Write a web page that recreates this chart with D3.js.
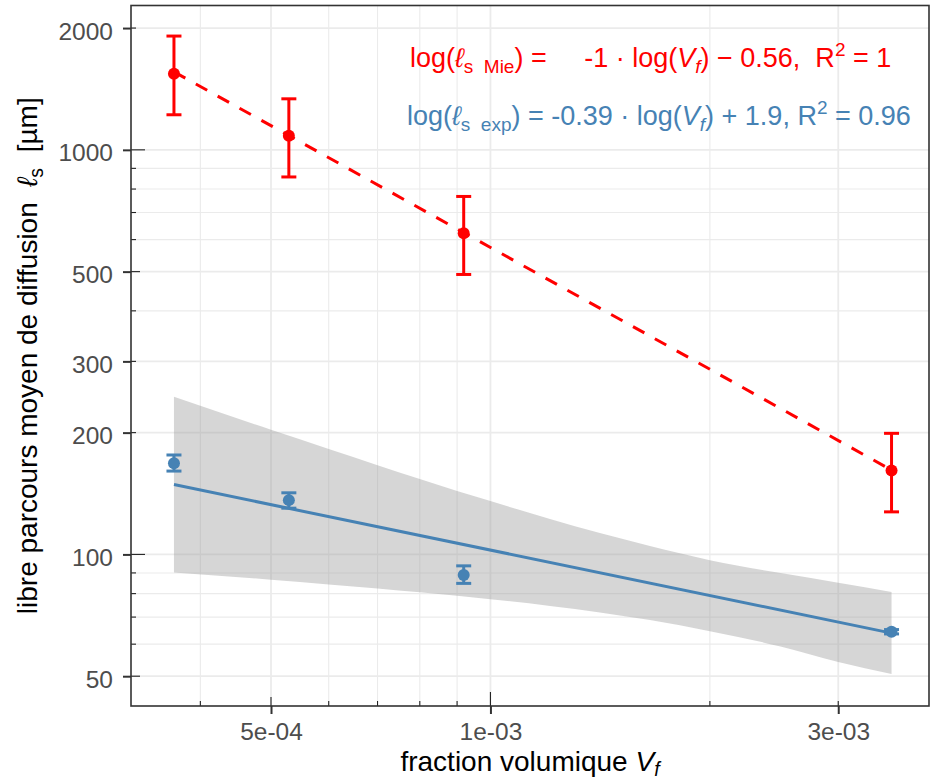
<!DOCTYPE html>
<html>
<head>
<meta charset="utf-8">
<script src="https://cdn.jsdelivr.net/npm/d3@7"></script>
<style>
  html, body { margin: 0; padding: 0; background: #fff; }
  svg { display: block; font-family: "Liberation Sans", Arial, Helvetica, sans-serif; }
</style>
</head>
<body>
<svg id="chart" width="930" height="784"></svg>
<script>
// ---------------- data ----------------
const vf      = [3.68e-4, 5.29e-4, 9.19e-4, 3.55e-3];
// Mie (computed) scattering mean free path, µm
const mieL    = [1542, 1083, 622, 161.3];
const mieLo   = [1221, 857, 492, 127.4];
const mieHi   = [1911, 1337, 767, 199.2];
// experimental scattering mean free path, µm
const expL    = [167.9, 136.2, 89.0, 64.4];
const expLo   = [160.7, 130.1, 84.8, 63.6];
const expHi   = [176.1, 142.0, 93.7, 65.2];
// fitted lines at the first and last vf
const fitVf   = [3.68e-4, 3.55e-3];
const mieFit  = [1559, 161.6];
const expFit  = [148.8, 63.9];
// confidence band of the experimental fit
const bandVf  = [3.68e-4, 5e-4, 6e-4, 7e-4, 8e-4, 9e-4, 1e-3, 1.207e-3, 1.413e-3, 1.655e-3, 2e-3, 2.5e-3, 3e-3, 3.55e-3];
const bandHi  = [245.4, 203.2, 182.2, 166.2, 153.6, 143.5, 135.5, 122.3, 112.9, 104.9, 96.8, 89.9, 85.1, 80.7];
const bandLo  = [90.2, 86.6, 84.3, 82.4, 80.6, 79.0, 77.5, 74.6, 71.9, 68.8, 64.6, 59.2, 54.2, 50.6];
// axes
const xTicks      = [5e-4, 1e-3, 3e-3];
const xTickLabels = ["5e-04", "1e-03", "3e-03"];
const xMinor      = [4e-4, 6e-4, 7e-4, 8e-4, 9e-4, 2e-3];
const yTicks      = [50, 100, 200, 300, 500, 1000, 2000];
const yTickLabels = ["50", "100", "200", "300", "500", "1000", "2000"];
const yMinor      = [60, 70, 80, 90, 400, 600, 700, 800, 900];
const xDomain     = [3.213e-4, 3.996e-3];
const yDomain     = [42.2, 2274];

// ---------------- layout ----------------
const L = 131, R = 929, T = 5.5, B = 706;
const RED = "#FF0000", BLUE = "#4682B4";
const svg = d3.select("#chart");

const x = d3.scaleLog().domain(xDomain).range([L, R]);
const y = d3.scaleLog().domain(yDomain).range([B, T]);

// grid
const grid = svg.append("g");
grid.selectAll(".ymin").data(yMinor).join("line")
  .attr("x1", L).attr("x2", R).attr("y1", d => y(d)).attr("y2", d => y(d))
  .attr("stroke", "#EBEBEB").attr("stroke-width", 1.1);
grid.selectAll(".xmin").data(xMinor).join("line")
  .attr("y1", T).attr("y2", B).attr("x1", d => x(d)).attr("x2", d => x(d))
  .attr("stroke", "#EBEBEB").attr("stroke-width", 1.1);
grid.selectAll(".ymaj").data(yTicks).join("line")
  .attr("x1", L).attr("x2", R).attr("y1", d => y(d)).attr("y2", d => y(d))
  .attr("stroke", "#EBEBEB").attr("stroke-width", 1.8);
grid.selectAll(".xmaj").data(xTicks).join("line")
  .attr("y1", T).attr("y2", B).attr("x1", d => x(d)).attr("x2", d => x(d))
  .attr("stroke", "#EBEBEB").attr("stroke-width", 1.8);

// confidence band
const band = bandVf.map((v, i) => ({v, lo: bandLo[i], hi: bandHi[i]}));
svg.append("path").datum(band)
  .attr("d", d3.area().curve(d3.curveMonotoneX).x(d => x(d.v)).y0(d => y(d.lo)).y1(d => y(d.hi)))
  .attr("fill", "#999999").attr("fill-opacity", 0.4);

// fit lines
const line = d3.line().x(d => x(d[0])).y(d => y(d[1]));
svg.append("path").datum(fitVf.map((v, i) => [v, expFit[i]]))
  .attr("d", line).attr("fill", "none").attr("stroke", BLUE).attr("stroke-width", 3);
svg.append("path").datum(fitVf.map((v, i) => [v, mieFit[i]]))
  .attr("d", line).attr("fill", "none").attr("stroke", RED).attr("stroke-width", 3)
  .attr("stroke-dasharray", "13,12");

// error bars + points
function series(vals, lo, hi, color) {
  const data = vf.map((v, i) => ({v, m: vals[i], lo: lo[i], hi: hi[i]}));
  const g = svg.append("g").attr("stroke", color).attr("stroke-width", 3);
  g.selectAll(".stem").data(data).join("line")
    .attr("x1", d => x(d.v)).attr("x2", d => x(d.v))
    .attr("y1", d => y(d.lo)).attr("y2", d => y(d.hi));
  g.selectAll(".capt").data(data).join("line")
    .attr("x1", d => x(d.v) - 7.5).attr("x2", d => x(d.v) + 7.5)
    .attr("y1", d => y(d.hi)).attr("y2", d => y(d.hi));
  g.selectAll(".capb").data(data).join("line")
    .attr("x1", d => x(d.v) - 7.5).attr("x2", d => x(d.v) + 7.5)
    .attr("y1", d => y(d.lo)).attr("y2", d => y(d.lo));
  svg.append("g").selectAll("circle").data(data).join("circle")
    .attr("cx", d => x(d.v)).attr("cy", d => y(d.m)).attr("r", 6)
    .attr("fill", color);
}
series(expL, expLo, expHi, BLUE);
series(mieL, mieLo, mieHi, RED);

// log ticks inside the panel
const logLen = d => {
  const m = Math.round(d / Math.pow(10, Math.floor(Math.log10(d) + 1e-9)));
  return m === 1 ? 14 : (m === 5 ? 9 : 5);
};
svg.append("g").selectAll("line").data(y.ticks()).join("line")
  .attr("x1", L).attr("x2", d => L + logLen(d)).attr("y1", d => y(d)).attr("y2", d => y(d))
  .attr("stroke", "#222").attr("stroke-width", 1.1);
svg.append("g").selectAll("line").data(x.ticks()).join("line")
  .attr("y1", B).attr("y2", d => B - logLen(d)).attr("x1", d => x(d)).attr("x2", d => x(d))
  .attr("stroke", "#222").attr("stroke-width", 1.1);

// axes
const yAxis = svg.append("g").attr("transform", `translate(${L},0)`)
  .call(d3.axisLeft(y).tickValues(yTicks).tickFormat((d, i) => yTickLabels[i]).tickSize(8).tickPadding(10));
const xAxis = svg.append("g").attr("transform", `translate(0,${B})`)
  .call(d3.axisBottom(x).tickValues(xTicks).tickFormat((d, i) => xTickLabels[i]).tickSize(8).tickPadding(4));
[yAxis, xAxis].forEach(a => {
  a.select(".domain").remove();
  a.selectAll(".tick line").attr("stroke", "#333").attr("stroke-width", 2);
  a.selectAll(".tick text").attr("fill", "#4D4D4D").style("font-size", "24.5px")
    .style("font-family", '"Liberation Sans", Arial, sans-serif');
});
yAxis.selectAll(".tick text").attr("dy", "0.45em");
xAxis.selectAll(".tick text").attr("dy", "0.9em");

// panel border
svg.append("rect").attr("x", L).attr("y", T).attr("width", R - L).attr("height", B - T)
  .attr("fill", "none").attr("stroke", "#333").attr("stroke-width", 1.6);

// axis titles
const xt = svg.append("text").attr("x", (L + R) / 2).attr("y", 771)
  .attr("text-anchor", "middle").style("font-size", "28px").attr("fill", "#000")
  .attr("xml:space", "preserve");
xt.append("tspan").text("fraction volumique ");
xt.append("tspan").style("font-style", "italic").text("V");
xt.append("tspan").style("font-style", "italic").style("font-size", "19.5px").attr("dy", 5).text("f");

const yt = svg.append("text").attr("transform", `translate(37,${(T + B) / 2}) rotate(-90)`)
  .attr("text-anchor", "middle").style("font-size", "28px").attr("fill", "#000")
  .attr("xml:space", "preserve");
yt.append("tspan").text("libre parcours moyen de diffusion  ");
yt.append("tspan").style("font-style", "italic").text("ℓ");
yt.append("tspan").style("font-size", "19.5px").attr("dy", 6).text("s");
yt.append("tspan").attr("dy", -6).text("  [µm]");

// equation annotations
function eq(yPos, xPos, color, sub, rest) {
  const t = svg.append("text").attr("x", xPos).attr("y", yPos).attr("fill", color)
    .style("font-size", "27px").attr("xml:space", "preserve");
  t.append("tspan").text("log(");
  t.append("tspan").style("font-style", "italic").text("ℓ");
  t.append("tspan").style("font-size", "19px").attr("dy", 6).text(sub);
  t.append("tspan").attr("dy", -6).text(rest[0]);
  t.append("tspan").style("font-style", "italic").text("V");
  t.append("tspan").style("font-style", "italic").style("font-size", "19px").attr("dy", 6).text("f");
  t.append("tspan").attr("dy", -6).text(rest[1]);
  t.append("tspan").style("font-size", "19px").attr("dy", -11).text("2");
  t.append("tspan").attr("dy", 11).text(rest[2]);
}
eq(67, 410, RED, "s  Mie", [") =     -1 · log(", ") − 0.56,  R", " = 1"]);
eq(125, 407, BLUE, "s  exp", [") = -0.39 · log(", ") + 1.9, R", " = 0.96"]);
</script>
</body>
</html>
